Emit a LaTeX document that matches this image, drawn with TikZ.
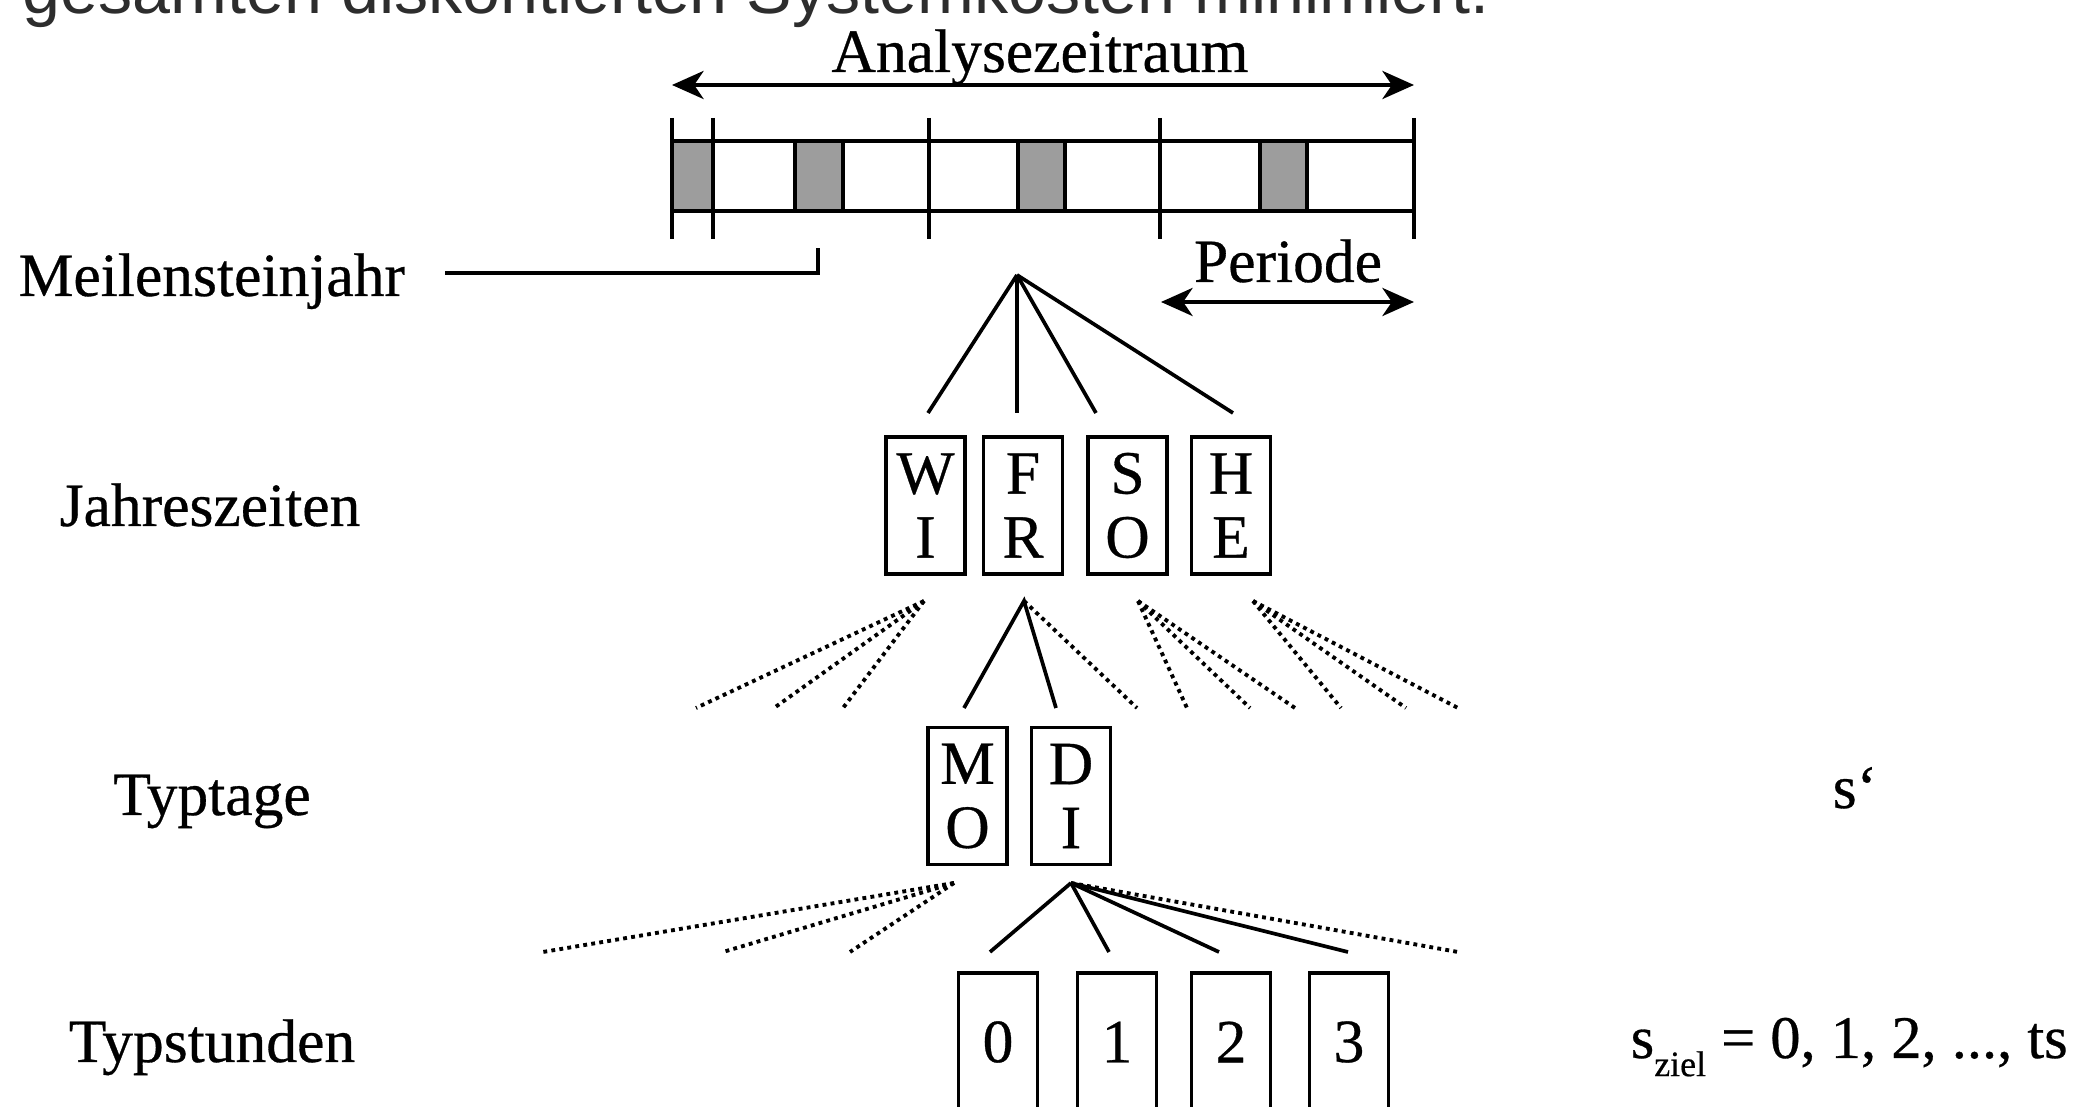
\documentclass[tikz,border=0pt]{standalone}
\usepackage{fontspec}
\setmainfont{Liberation Serif}[FakeBold=0.5]
\newfontfamily\slidesans{Liberation Sans}
\usetikzlibrary{arrows.meta}
\definecolor{cellgray}{RGB}{157,157,157}
\definecolor{slidetext}{RGB}{45,45,45}
\begin{document}
\begin{tikzpicture}[x=0.01cm, y=-0.01cm,
  lbl/.style={font=\fontsize{17.5}{21}\selectfont, inner sep=0pt, anchor=base},
  stroke/.style={line width=1.05pt},
  dotline/.style={line width=1.1pt, dash pattern=on 1.1pt off 1.2pt},
  tag/.style={draw, line width=1.05pt, minimum width=0.79cm, minimum height=1.37cm,
    inner sep=0pt, align=center, font=\fontsize{17.5}{18.2}\selectfont},
  span/.style={line width=1.05pt,
    {Stealth[length=9pt,width=8pt,inset=2.7pt]}-{Stealth[length=9pt,width=8pt,inset=2.7pt]}}]
\clip (0,0) rectangle (2081,1107);
\fill[white] (0,0) rectangle (2081,1107);

% heading line running above the figure
\node[anchor=base west, inner sep=0pt, font=\slidesans\fontsize{19.4}{23}\selectfont,
  text=slidetext] (head) at (22,14) {gesamten diskontierten Systemkosten minimiert.};

% time bar with milestone years
\foreach \a/\b in {672/713, 795/843, 1018/1065, 1260/1307}
  \fill[cellgray] (\a,141) rectangle (\b,211);
\draw[stroke] (672,141) -- (1414,141) (672,211) -- (1414,211);
\foreach \x in {672,713,929,1160,1414} \draw[stroke] (\x,118) -- (\x,239);
\foreach \x in {795,843,1018,1065,1260,1307} \draw[stroke] (\x,141) -- (\x,211);

% analysis horizon
\coordinate (spanL) at (672,85);
\coordinate (spanR) at (1414,85);
\draw[span] (spanL) -- (spanR);
\node[lbl] (az) at (1040,72) {Analysezeitraum};

% one period
\coordinate (perL) at (1161,302);
\coordinate (perR) at (1414,302);
\draw[span] (perL) -- (perR);
\node[lbl] (per) at (1288,282) {Periode};

% milestone year
\node[lbl, anchor=base west] (mj) at (18,296) {Meilensteinjahr};
\coordinate (mjA) at (445,273);
\coordinate (mjB) at (818,248);
\draw[stroke] (mjA) -| (mjB);

% level labels
\node[lbl] (lvS) at (210,526) {Jahreszeiten};
\node[lbl] (lvD) at (212,815) {Typtage};
\node[lbl] (lvH) at (212,1062) {Typstunden};
\node[lbl, anchor=base west] (sp) at (1832,808) {s‘};
\node[lbl, anchor=base west, font=\fontsize{17.2}{20}\selectfont] (sz) at (1630,1058)
  {s\raisebox{-0.3em}{\fontsize{10.2}{10}\selectfont ziel} = 0, 1, 2, ..., ts};

% seasons
\node[tag] (wi) at (925.5,505.5) {W\\I};
\node[tag] (fr) at (1023,505.5) {F\\R};
\node[tag] (so) at (1127.5,505.5) {S\\O};
\node[tag] (he) at (1231,505.5) {H\\E};

% type days
\node[tag] (mo) at (967.5,796) {M\\O};
\node[tag] (di) at (1071,796) {D\\I};

% type hours
\node[tag, minimum height=1.38cm] (h0) at (998,1042) {0};
\node[tag, minimum height=1.38cm] (h1) at (1117,1042) {1};
\node[tag, minimum height=1.38cm] (h2) at (1231,1042) {2};
\node[tag, minimum height=1.38cm] (h3) at (1349,1042) {3};

% year -> seasons
\coordinate (yr) at (1017,275);
\coordinate (wiT) at (928,413);
\coordinate (frT) at (1017,413);
\coordinate (soT) at (1096,413);
\coordinate (heT) at (1233,413);
\foreach \n in {wiT,frT,soT,heT} \draw[stroke] (yr) -- (\n);

% seasons -> type days
\coordinate (wiF) at (924,601);
\coordinate (frF) at (1024,601);
\coordinate (soF) at (1138,601);
\coordinate (heF) at (1253,601);
\foreach \x [count=\i] in {696,774,843} {
  \coordinate (wiE\i) at (\x,708); \draw[dotline] (wiF) -- (wiE\i);}
\coordinate (moT) at (964,708);
\coordinate (diT) at (1056,708);
\coordinate (frE) at (1137,708);
\draw[stroke] (moT) -- (frF) -- (diT);
\draw[dotline] (frF) -- (frE);
\foreach \x [count=\i] in {1187,1250,1295} {
  \coordinate (soE\i) at (\x,708); \draw[dotline] (soF) -- (soE\i);}
\foreach \x [count=\i] in {1341,1406,1458} {
  \coordinate (heE\i) at (\x,708); \draw[dotline] (heF) -- (heE\i);}

% type days -> type hours
\coordinate (moF) at (954,883);
\coordinate (diF) at (1071,883);
\foreach \x [count=\i] in {543,723,850} {
  \coordinate (moE\i) at (\x,952); \draw[dotline] (moF) -- (moE\i);}
\foreach \x/\n in {990/h0T,1109/h1T,1219/h2T,1348/h3T} {
  \coordinate (\n) at (\x,952); \draw[stroke] (diF) -- (\n);}
\coordinate (diE) at (1458,952);
\draw[dotline] (diF) -- (diE);
\end{tikzpicture}
\end{document}
